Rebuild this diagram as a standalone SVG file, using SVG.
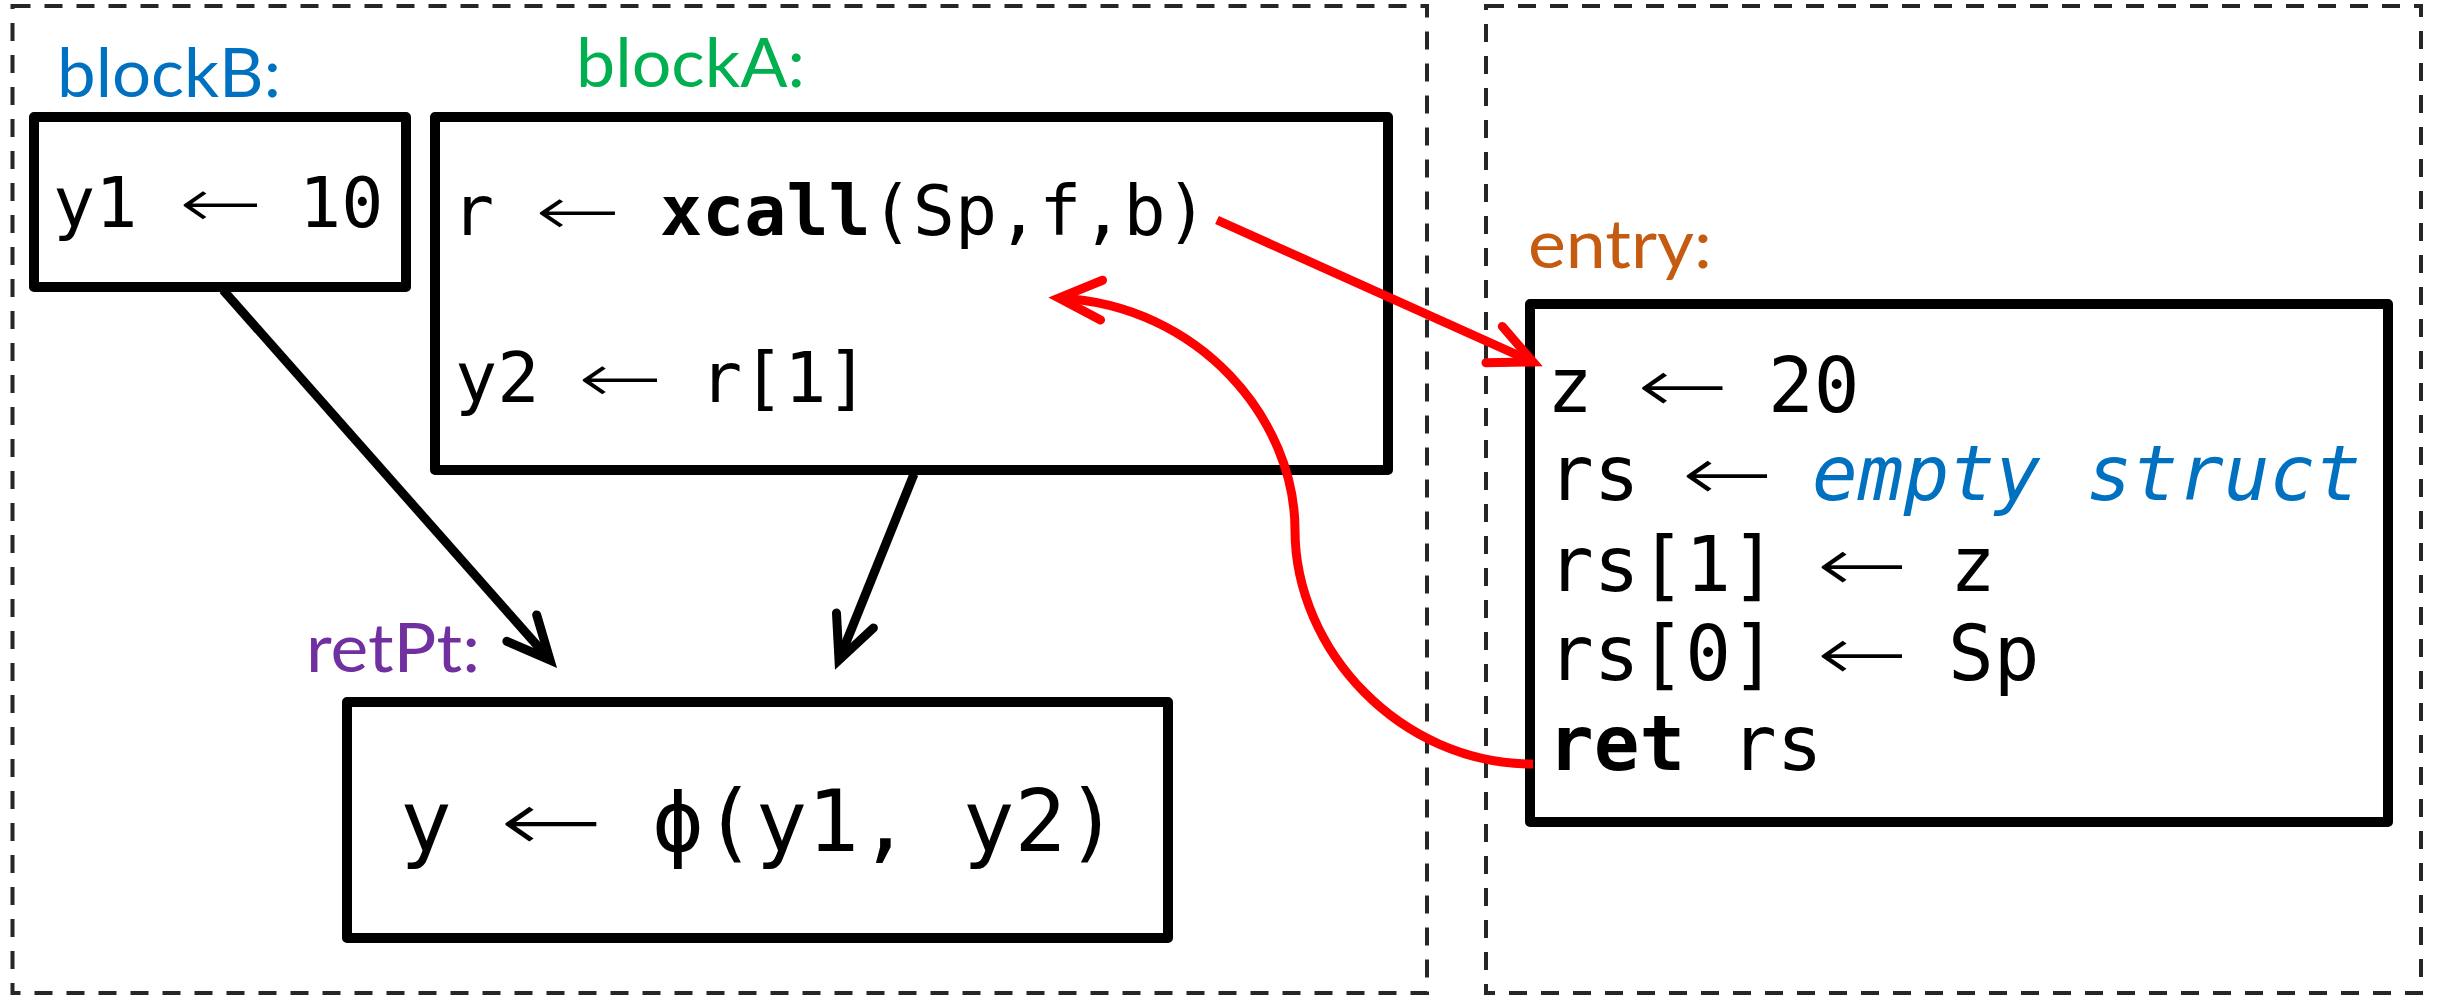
<svg xmlns="http://www.w3.org/2000/svg" width="2440" height="995" viewBox="0 0 2440 995">
  <style>
    .frame { fill: none; stroke: #262626; stroke-width: 4; stroke-dasharray: 18 14; }
    .block { fill: #ffffff; stroke: #000000; stroke-width: 10; stroke-linejoin: round; }
    .label { font-family: Lato, "Liberation Sans", sans-serif; font-size: 68px; }
    .code { font-family: "DejaVu Sans Mono", "Liberation Mono", monospace; fill: #000000; font-variant-numeric: slashed-zero; }
    .arrow { font-family: "DejaVu Sans", "Liberation Sans", sans-serif; font-weight: 200; fill: #000000; }
    .kw { font-weight: bold; }
    .note { font-style: italic; fill: #0070c0; }
    .edge { fill: none; stroke-width: 9; stroke-linecap: butt; }
    .flow { stroke: #000000; }
    .call { stroke: #ff0000; }
  </style>
  <defs>
    <marker id="headBlack" markerUnits="userSpaceOnUse" orient="auto" refX="0" refY="0"
            viewBox="-60 -40 80 80" markerWidth="80" markerHeight="80" overflow="visible">
      <path d="M-42.6,-19.9 L0,0 L-42.6,19.9" fill="none" stroke="#000000" stroke-width="9"
            stroke-linecap="round" stroke-linejoin="miter"/>
    </marker>
    <marker id="headRed" markerUnits="userSpaceOnUse" orient="auto" refX="0" refY="0"
            viewBox="-60 -40 80 80" markerWidth="80" markerHeight="80" overflow="visible">
      <path d="M-42.6,-19.9 L0,0 L-42.6,19.9" fill="none" stroke="#ff0000" stroke-width="9"
            stroke-linecap="round" stroke-linejoin="miter"/>
    </marker>
  </defs>

  <!-- function frames -->
  <g id="frames">
    <rect class="frame" x="12.5" y="6" width="1414.5" height="987"/>
    <rect class="frame" x="1486" y="6" width="935" height="987"/>
  </g>

  <!-- blockB -->
  <g id="blockB">
    <text class="label" x="57" y="97" fill="#0070c0" textLength="224" lengthAdjust="spacingAndGlyphs">blockB:</text>
    <rect class="block" x="34" y="117" width="372" height="170"/>
    <text class="code" x="53" y="227" font-size="70">y1</text>
    <text class="arrow" x="220.5" y="227" font-size="70" text-anchor="middle" textLength="84" lengthAdjust="spacingAndGlyphs">←</text>
    <text class="code" x="299" y="227" font-size="70">10</text>
  </g>

  <!-- blockA -->
  <g id="blockA">
    <text class="label" x="576" y="87" fill="#00b050" textLength="229" lengthAdjust="spacingAndGlyphs">blockA:</text>
    <rect class="block" x="435" y="117" width="953" height="353"/>
    <text class="code" x="452" y="235" font-size="70">r</text>
    <text class="arrow" x="577.5" y="235" font-size="70" text-anchor="middle" textLength="86" lengthAdjust="spacingAndGlyphs">←</text>
    <text class="code" x="660" y="235" font-size="70"><tspan class="kw">xcall</tspan>(Sp,f,b)</text>
    <text class="code" x="455" y="402" font-size="70">y2</text>
    <text class="arrow" x="620" y="402" font-size="70" text-anchor="middle" textLength="85" lengthAdjust="spacingAndGlyphs">←</text>
    <text class="code" x="700" y="402" font-size="70">r[1]</text>
  </g>

  <!-- retPt -->
  <g id="retPt">
    <text class="label" x="306" y="672" fill="#7030a0" textLength="174" lengthAdjust="spacingAndGlyphs">retPt:</text>
    <rect class="block" x="347" y="702" width="821" height="236"/>
    <text class="code" x="400" y="851" font-size="86">y</text>
    <text class="arrow" x="551.5" y="851" font-size="86" text-anchor="middle" textLength="104" lengthAdjust="spacingAndGlyphs">←</text>
    <text class="code" x="652" y="851" font-size="86">ϕ(y1, y2)</text>
  </g>

  <!-- entry -->
  <g id="entry">
    <text class="label" x="1528" y="268" fill="#c55a11" textLength="184" lengthAdjust="spacingAndGlyphs">entry:</text>
    <rect class="block" x="1530" y="304" width="858" height="518"/>
    <text class="code" x="1547" y="412" font-size="76">z</text>
    <text class="arrow" x="1682.5" y="412" font-size="76" text-anchor="middle" textLength="92" lengthAdjust="spacingAndGlyphs">←</text>
    <text class="code" x="1768" y="412" font-size="76">20</text>

    <text class="code" x="1548" y="500" font-size="76">rs</text>
    <text class="arrow" x="1727" y="500" font-size="76" text-anchor="middle" textLength="92" lengthAdjust="spacingAndGlyphs">←</text>
    <text class="code note" x="1812" y="500" font-size="76">empty struct</text>

    <text class="code" x="1548" y="591" font-size="76">rs[1]</text>
    <text class="arrow" x="1862" y="591" font-size="76" text-anchor="middle" textLength="92" lengthAdjust="spacingAndGlyphs">←</text>
    <text class="code" x="1950" y="591" font-size="76">z</text>

    <text class="code" x="1548" y="680" font-size="76">rs[0]</text>
    <text class="arrow" x="1862" y="680" font-size="76" text-anchor="middle" textLength="92" lengthAdjust="spacingAndGlyphs">←</text>
    <text class="code" x="1948" y="680" font-size="76">Sp</text>

    <text class="code" x="1548" y="770" font-size="76"><tspan class="kw">ret</tspan> rs</text>
  </g>

  <!-- control flow and call/return edges -->
  <g id="connectors">
    <path class="edge flow" d="M223,290 L550,660" marker-end="url(#headBlack)"/>
    <path class="edge flow" d="M914,474 L839,660" marker-end="url(#headBlack)"/>
    <path class="edge call" d="M1217,220 L1533,362" marker-end="url(#headRed)"/>
    <path class="edge call" d="M1533,764 C1400,764 1295,650 1295,530 C1295,420 1200,305 1059,298" marker-end="url(#headRed)"/>
  </g>
</svg>
